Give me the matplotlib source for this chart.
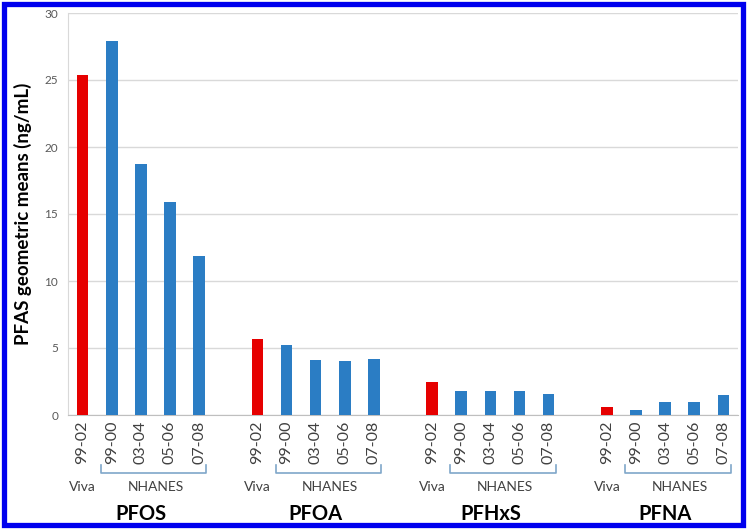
import matplotlib
matplotlib.use("Agg")
import matplotlib.pyplot as plt
from matplotlib.patches import Rectangle
import matplotlib.transforms as mtransforms

plt.rcParams["font.family"] = ["Lato", "DejaVu Sans"]

# data
compounds = ["PFOS", "PFOA", "PFHxS", "PFNA"]
periods = ["99-02", "99-00", "03-04", "05-06", "07-08"]
sources = ["Viva", "NHANES", "NHANES", "NHANES", "NHANES"]
pfos = [25.4, 27.9, 18.7, 15.9, 11.9]
pfoa = [5.7, 5.2, 4.1, 4.0, 4.2]
pfhxs = [2.5, 1.8, 1.8, 1.8, 1.6]
pfna = [0.6, 0.4, 1.0, 1.0, 1.5]
values = [pfos, pfoa, pfhxs, pfna]

RED = "#e60000"
BLUE = "#2b7dc4"
BRACKET = "#7fa7c9"

fig = plt.figure(figsize=(7.5, 5.31), dpi=100)
ax = fig.add_axes([68 / 750, 1 - 415 / 531, 670 / 750, 402 / 531])

xs, hs, cols, labels = [], [], [], []
pos = 0
group_pos = []
for g, vals in enumerate(values):
    gp = []
    for i, v in enumerate(vals):
        xs.append(pos)
        hs.append(v)
        cols.append(RED if sources[i] == "Viva" else BLUE)
        labels.append(periods[i])
        gp.append(pos)
        pos += 1
    group_pos.append(gp)
    pos += 1

ax.bar(xs, hs, width=0.4, color=cols, zorder=3)
ax.set_xlim(-0.5, 22.5)
ax.set_ylim(0, 30)
ax.set_yticks(range(0, 31, 5))
ax.yaxis.grid(True, color="#d9d9d9", lw=1, zorder=0)
for s in ["top", "right"]:
    ax.spines[s].set_visible(False)
ax.spines["left"].set_color("#d9d9d9")
ax.spines["bottom"].set_color("#bfbfbf")
ax.tick_params(axis="y", length=0, labelsize=8.5, labelcolor="#595959", pad=7)
ax.set_xticks(xs)
ax.set_xticklabels(labels, rotation=90, fontsize=11.5, color="#404040")
ax.tick_params(axis="x", length=0, pad=4)
ax.set_ylabel("PFAS geometric means (ng/mL)", fontsize=13.5, fontweight="bold", labelpad=9)

trans = mtransforms.blended_transform_factory(ax.transData, ax.transAxes)
for g, gp in enumerate(group_pos):
    x0 = gp[1] - 0.37
    x1 = gp[-1] + 0.25
    ax.plot([x0, x0, x1, x1], [-0.124, -0.144, -0.144, -0.124], color=BRACKET, lw=1.2,
            transform=trans, clip_on=False)
    ax.text(gp[0], -0.18, "Viva", transform=trans, ha="center", va="center",
            fontsize=10, color="#404040")
    ax.text((gp[1] + gp[-1]) / 2, -0.18, "NHANES", transform=trans, ha="center",
            va="center", fontsize=10, color="#404040")
    ax.text((gp[0] + gp[-1]) / 2, -0.247, compounds[g], transform=trans, ha="center",
            va="center", fontsize=14.5, fontweight="bold", color="black")

fig.patches.append(Rectangle((3.5 / 750, 1 - 525 / 531), 739 / 750, 521 / 531,
                             transform=fig.transFigure, fill=False,
                             edgecolor="#0000ee", lw=3.8))

fig.savefig("out.png", dpi=100)
